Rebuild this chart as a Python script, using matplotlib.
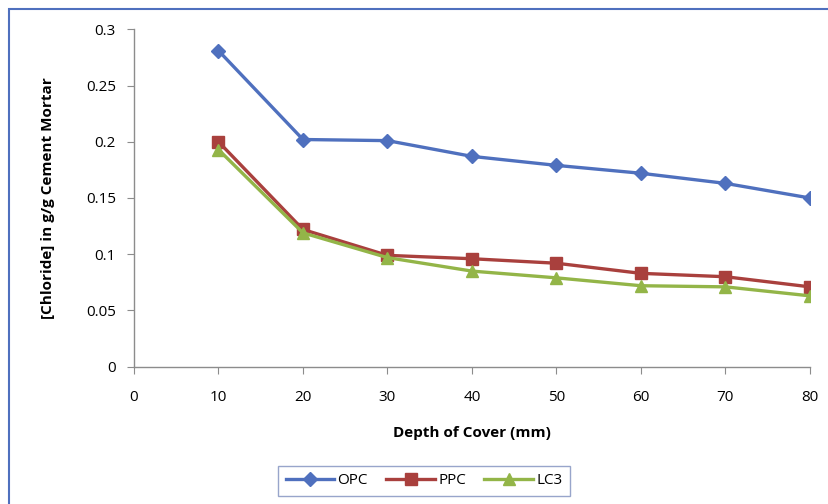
import matplotlib.pyplot as plt
from matplotlib.patches import Rectangle

plt.rcParams['font.family'] = ['Open Sans', 'DejaVu Sans']

# Datos
profundidad = [10, 20, 30, 40, 50, 60, 70, 80]
opc = [0.281, 0.202, 0.201, 0.187, 0.179, 0.172, 0.163, 0.150]
ppc = [0.200, 0.122, 0.099, 0.096, 0.092, 0.083, 0.080, 0.071]
lc3 = [0.193, 0.119, 0.097, 0.085, 0.079, 0.072, 0.071, 0.063]
ticks_x = [0, 10, 20, 30, 40, 50, 60, 70, 80]
ticks_y = [0, 0.05, 0.1, 0.15, 0.2, 0.25, 0.3]

fig = plt.figure(figsize=(8.29, 5.04), dpi=100)
ax = fig.add_axes([0.1616, 0.2724, 0.8154, 0.6695])

ax.plot(profundidad, opc, color='#4F70BE', lw=2.4, marker='D', ms=7, label='OPC')
ax.plot(profundidad, ppc, color='#A9403D', lw=2.4, marker='s', ms=8, label='PPC')
ax.plot(profundidad, lc3, color='#93B548', lw=2.4, marker='^', ms=9, label='LC3')

ax.set_xlim(0, 80)
ax.set_ylim(0, 0.3)
ax.set_xticks(ticks_x)
ax.set_xticklabels([str(t) for t in ticks_x])
ax.set_yticks(ticks_y)
ax.set_yticklabels(['0', '0.05', '0.1', '0.15', '0.2', '0.25', '0.3'])

for lado in ['top', 'right']:
    ax.spines[lado].set_visible(False)
for lado in ['left', 'bottom']:
    ax.spines[lado].set_color('#8C8C8C')
    ax.spines[lado].set_linewidth(1)
ax.tick_params(axis='both', colors='#8C8C8C', labelcolor='black', labelsize=11, length=5)
ax.tick_params(axis='x', pad=12)
ax.tick_params(axis='y', pad=8)

ax.set_xlabel('Depth of Cover (mm)', fontsize=11, fontweight='bold', labelpad=15)
ax.set_ylabel('[Chloride] in g/g Cement Mortar', fontsize=11, fontweight='bold', labelpad=22)

leg = ax.legend(loc='center', bbox_to_anchor=(0.429, -0.338), ncol=3, fontsize=11,
                frameon=True, fancybox=False, handlelength=3.2, columnspacing=1.2,
                handletextpad=0.2, borderpad=0.5)
leg.get_frame().set_edgecolor('#7F8FBF')
leg.get_frame().set_linewidth(1)

# Borde exterior azul (solo visible arriba e izquierda)
fig.patches.append(Rectangle((9 / 829, -0.1), 1.2, 1 - 9 / 504 + 0.1, transform=fig.transFigure,
                             fill=False, edgecolor='#4F70BE', lw=1.5))

fig.savefig('out.png', dpi=100)
